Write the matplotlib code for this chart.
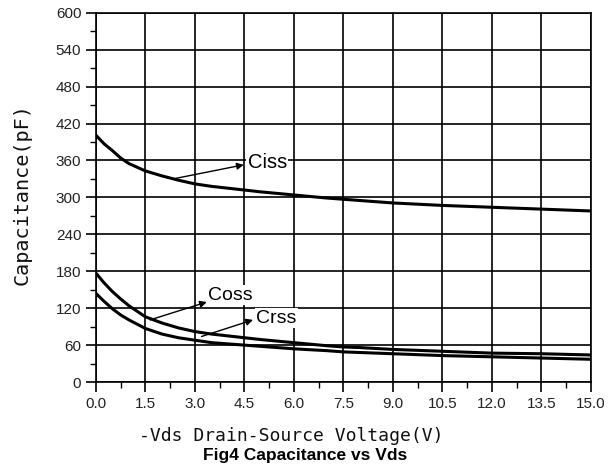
import matplotlib
matplotlib.use("Agg")
import matplotlib.pyplot as plt
from matplotlib.ticker import MultipleLocator, FormatStrFormatter

# -Vds sweep (V) and capacitances (pF)
vds = [0, 0.25, 0.5, 0.75, 1.0, 1.5, 2.0, 2.5, 3.0, 3.5, 4.0, 4.5, 5.0,
       6.0, 7.0, 7.5, 8.0, 9.0, 10.5, 12.0, 13.5, 15.0]
ciss = [401, 387, 376, 364, 355, 343, 335, 328, 322, 318, 315, 312, 309,
        304, 299, 297, 295, 291, 287, 284, 281, 278]
coss = [177, 161, 147, 135, 124, 106, 96, 88, 82, 78, 75, 72, 69,
        64, 59, 57, 56, 53, 50, 47, 46, 44]
crss = [144, 131, 119, 109, 101, 87, 78, 72, 68, 64, 62, 60, 58,
        54, 51, 49, 48, 46, 43, 41, 39, 37]

fig = plt.figure(figsize=(6.11, 4.74), dpi=100)
ax = fig.add_axes([0.157, 0.194, 0.81, 0.779])

for c in (ciss, coss, crss):
    ax.plot(vds, c, color="black", linewidth=2.2, zorder=3)

ax.set_xlim(0, 15)
ax.set_ylim(0, 600)
ax.xaxis.set_major_locator(MultipleLocator(1.5))
ax.xaxis.set_minor_locator(MultipleLocator(0.75))
ax.yaxis.set_major_locator(MultipleLocator(60))
ax.yaxis.set_minor_locator(MultipleLocator(30))
ax.xaxis.set_major_formatter(FormatStrFormatter("%.1f"))
ax.grid(True, which="major", color="black", linewidth=1.2)
for s in ax.spines.values():
    s.set_linewidth(1.2)
ax.tick_params(which="major", direction="out", length=7, width=1.2,
               labelsize=11, labelcolor="#222222")
ax.tick_params(which="minor", direction="out", length=4, width=1.0)
for lab in ax.get_xticklabels() + ax.get_yticklabels():
    lab.set_family("Liberation Sans")

# axis titles placed in figure coordinates
fig.text(0.476, 0.08, "-Vds Drain-Source Voltage(V)", family="DejaVu Sans Mono",
         fontsize=13, ha="center", va="center", color="#111111")
fig.text(0.036, 0.59, "Capacitance(pF)", family="DejaVu Sans Mono",
         fontsize=14.5, rotation=90, ha="center", va="center", color="#111111")

arrow = dict(arrowstyle="-|>", color="black", lw=1.0, mutation_scale=10,
             shrinkA=0, shrinkB=0)
box = dict(facecolor="white", edgecolor="none", pad=1)
ax.annotate("", xy=(4.48, 353), xytext=(2.33, 330), arrowprops=arrow, zorder=4)
ax.text(4.6, 356, "Ciss", family="Liberation Sans", fontsize=14.5,
        va="center", ha="left", bbox=box, zorder=4)
ax.annotate("", xy=(3.36, 130), xytext=(1.64, 101), arrowprops=arrow, zorder=4)
ax.text(3.4, 141, "Coss", family="Liberation Sans", fontsize=14,
        va="center", ha="left", bbox=box, zorder=4)
ax.annotate("", xy=(4.76, 101), xytext=(3.2, 74), arrowprops=arrow, zorder=4)
ax.text(4.85, 104, "Crss", family="Liberation Sans", fontsize=14,
        va="center", ha="left", bbox=box, zorder=4)

fig.text(0.5, 0.04, "Fig4 Capacitance vs Vds", family="Liberation Sans",
         fontweight="bold", fontsize=12.5, ha="center", va="center")

fig.savefig("out.png", dpi=100)
